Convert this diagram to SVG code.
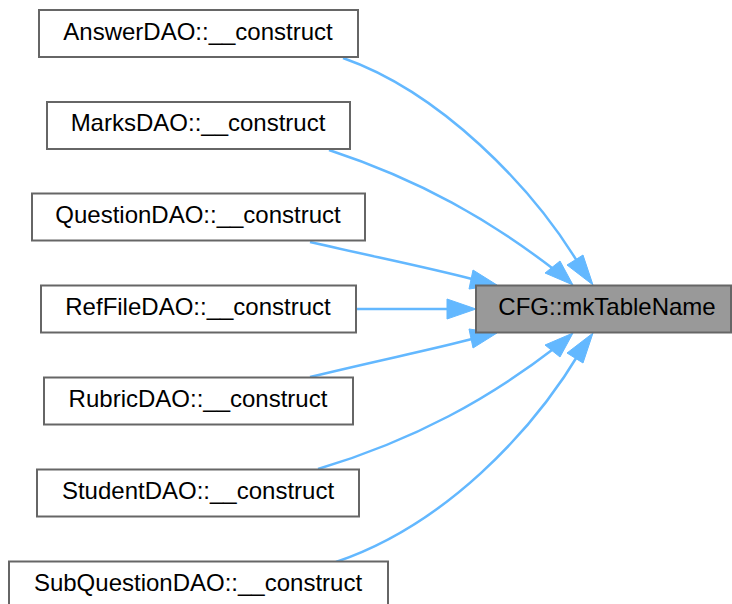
<svg xmlns="http://www.w3.org/2000/svg" width="732" height="604" viewBox="0 0 732 604">
<style>
.n rect{fill:#ffffff;stroke:#666666;stroke-width:2}
#target rect{fill:#999999;stroke:#666666;stroke-width:2}
text{font-family:"Liberation Sans",Arial,Helvetica,sans-serif;font-size:24px;fill:#000000;text-anchor:middle}
.e path{fill:none;stroke:#63b8ff;stroke-width:2.5}
.e polygon{fill:#63b8ff;stroke:#63b8ff;stroke-width:1}
</style>
<rect width="732" height="604" fill="#ffffff"/>
<g class="e" id="edges">
<path d="M343,58 C440,92 532,186 580,266"/>
<polygon points="593,285 567,265 583,255"/>
<path d="M329,150 C420,180 490,220 556,271"/>
<polygon points="573,285 545,273 560,261"/>
<path d="M310,242 C380,258 430,268 472,279"/>
<polygon points="497,285 469,289 473,270"/>
<path d="M357,309 L450,309"/>
<polygon points="476,309 447,299 447,319"/>
<path d="M310,377 C380,360 430,350 472,339"/>
<polygon points="497,333 473,348 469,329"/>
<path d="M318,469 C415,440 490,398 556,347"/>
<polygon points="573,333 560,357 545,345"/>
<path d="M336,562 C445,525 532,432 580,352"/>
<polygon points="593,333 583,363 567,353"/>
</g>
<g class="n" id="answer"><rect x="39" y="10" width="319" height="47"/><text x="198" y="40">AnswerDAO::__construct</text></g>
<g class="n" id="marks"><rect x="47" y="102" width="303" height="47"/><text x="198" y="131">MarksDAO::__construct</text></g>
<g class="n" id="question"><rect x="32" y="193.5" width="333" height="47"/><text x="198" y="223">QuestionDAO::__construct</text></g>
<g class="n" id="reffile"><rect x="41" y="285.5" width="315" height="47"/><text x="198" y="315">RefFileDAO::__construct</text></g>
<g class="n" id="rubric"><rect x="44" y="377.5" width="309" height="47"/><text x="198" y="407">RubricDAO::__construct</text></g>
<g class="n" id="student"><rect x="37" y="469.5" width="322" height="47"/><text x="198" y="499">StudentDAO::__construct</text></g>
<g class="n" id="subquestion"><rect x="9" y="561.5" width="379" height="47"/><text x="198" y="591">SubQuestionDAO::__construct</text></g>
<g id="target"><rect x="476" y="285.5" width="255" height="47"/><text x="607" y="315">CFG::mkTableName</text></g>
</svg>
